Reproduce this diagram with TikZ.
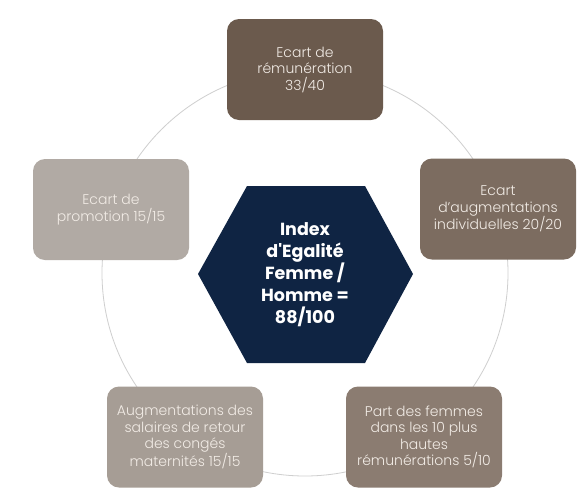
\documentclass[tikz,border=0pt]{standalone}
\usepackage{fontspec}
\setmainfont{Poppins}
\newfontfamily\lightfont{Poppins Light}
\newcommand\straightquote{\XeTeXglyph\XeTeXcharglyph"27\relax}
\begin{document}
\begin{tikzpicture}[x=1pt,y=-1pt,
  card/.style={rounded corners=12pt, minimum width=156pt, minimum height=101pt,
    text=cardtext, align=center, font=\lightfont\fontsize{14}{16.5}\selectfont, inner sep=0pt},
  ring/.style={draw=ringgray, line width=0.8pt}]
\definecolor{c1}{HTML}{6B5A4D}
\definecolor{c2}{HTML}{7C6C60}
\definecolor{c3}{HTML}{8B7C71}
\definecolor{c4}{HTML}{A69D95}
\definecolor{c5}{HTML}{B1AAA4}
\definecolor{navy}{HTML}{0F2443}
\definecolor{cardtext}{HTML}{F2ECE6}
\definecolor{ringgray}{HTML}{CFCFCF}
\useasboundingbox[fill=white] (0,0) rectangle (586,496);
\coordinate (ctr) at (305,273);
\draw[ring] (ctr) circle[radius=203];
\fill[navy] (198,274) -- (247,186) -- (365,186) -- (413,274) -- (365,363) -- (247,363) -- cycle;
\node[text=white, align=center, font=\bfseries\fontsize{17.5}{22}\selectfont] (hex) at (305,275) {Index\\d\straightquote Egalité\\Femme /\\Homme =\\88/100};
\node[card, fill=c1] (remu) at (305,69.5) {Ecart de\\rémunération\\33/40};
\node[card, fill=c2] (augm) at (498,209) {Ecart\\d’augmentations\\individuelles 20/20};
\node[card, fill=c3] (part) at (424,437) {Part des femmes\\dans les 10 plus\\hautes\\rémunérations 5/10};
\node[card, fill=c4] (mat) at (185,437) {Augmentations des\\salaires de retour\\des congés\\maternités 15/15};
\node[card, fill=c5] (promo) at (111,209.5) {Ecart de\\promotion 15/15};
\end{tikzpicture}
\end{document}
